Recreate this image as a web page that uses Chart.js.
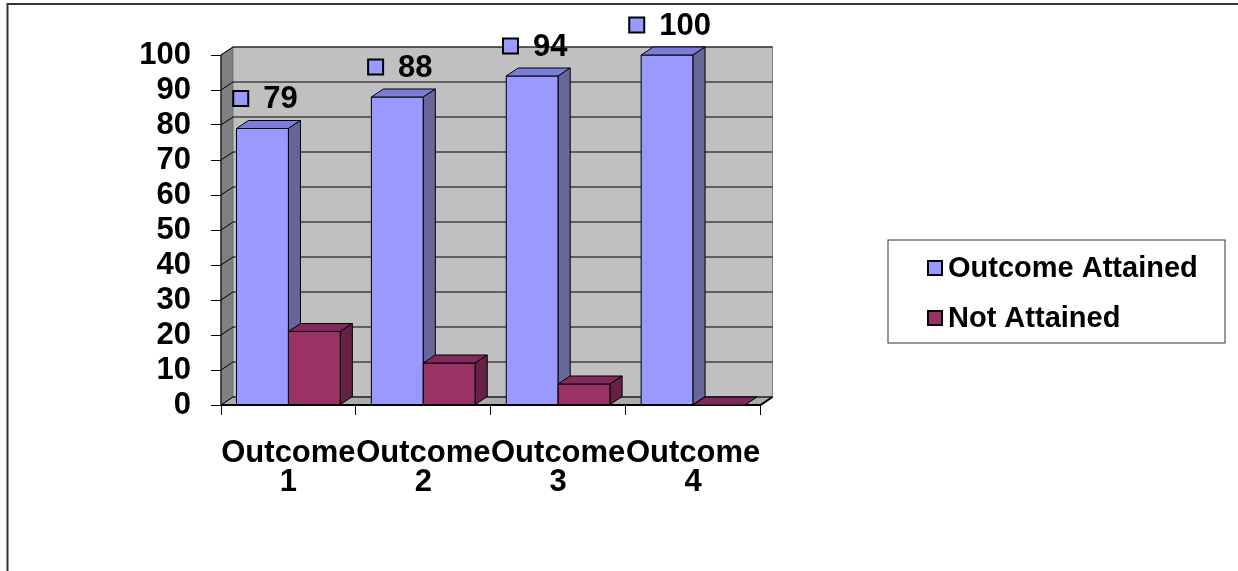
<!DOCTYPE html>
<html><head><meta charset="utf-8">
<script src="https://cdn.jsdelivr.net/npm/chart.js@4/dist/chart.umd.min.js"></script>
<style>
html,body{margin:0;padding:0;background:#fff;overflow:hidden;width:1238px;height:571px;}
#c{position:absolute;left:0;top:0;}
</style></head><body>
<canvas id="c" width="1238" height="571"></canvas>
<script>
// ---- data ----
const categories = [['Outcome', '1'], ['Outcome', '2'], ['Outcome', '3'], ['Outcome', '4']];
const seriesNames = ['Outcome Attained', 'Not Attained'];
const attained = [79, 88, 94, 100];
const notAttained = [21, 12, 6, 0];
const yMin = 0, yMax = 100, yStep = 10;

// ---- styles ----
const frontColors = ['#9999FF', '#993366'];
const topColors = ['#7C7CD9', '#80295A'];
const sideColors = ['#666699', '#662244'];
const FONT = "'Liberation Sans', Arial, sans-serif";
const DX = 12, DY = -8;

function poly(ctx, pts, fill) {
  ctx.beginPath();
  ctx.moveTo(pts[0][0], pts[0][1]);
  for (let i = 1; i < pts.length; i++) ctx.lineTo(pts[i][0], pts[i][1]);
  ctx.closePath();
  if (fill) { ctx.fillStyle = fill; ctx.fill(); }
  ctx.stroke();
}

const threeD = {
  id: 'threeD',
  beforeDatasetsDraw(chart) {
    const { ctx, chartArea: a, scales: { y } } = chart;
    ctx.save();
    ctx.lineWidth = 1;
    ctx.strokeStyle = '#555';
    poly(ctx, [[a.left, a.top], [a.left + DX, a.top + DY], [a.left + DX, a.bottom + DY], [a.left, a.bottom]], '#808080');
    ctx.fillStyle = '#C0C0C0';
    ctx.fillRect(a.left + DX, a.top + DY, a.right - a.left, a.bottom - a.top);
    ctx.strokeStyle = '#808080';
    ctx.strokeRect(a.left + DX, a.top + DY, a.right - a.left, a.bottom - a.top);
    ctx.strokeStyle = '#666';
    poly(ctx, [[a.left, a.bottom], [a.right, a.bottom], [a.right + DX, a.bottom + DY], [a.left + DX, a.bottom + DY]], '#ABABAB');
    ctx.strokeStyle = '#000';
    y.ticks.forEach(t => {
      const yy = y.getPixelForValue(t.value);
      ctx.beginPath();
      ctx.moveTo(a.left, yy);
      ctx.lineTo(a.left + DX, yy + DY);
      ctx.lineTo(a.right + DX, yy + DY);
      ctx.stroke();
    });
    ctx.beginPath();
    ctx.moveTo(a.left, a.top); ctx.lineTo(a.left, a.bottom);
    ctx.stroke();
    ctx.lineWidth = 2;
    ctx.beginPath();
    ctx.moveTo(a.left, a.bottom); ctx.lineTo(a.right, a.bottom); ctx.lineTo(a.right + DX, a.bottom + DY);
    ctx.stroke();
    ctx.restore();
  },
  afterDatasetsDraw(chart) {
    const ctx = chart.ctx;
    const n = chart.data.labels.length;
    ctx.save();
    ctx.lineWidth = 1;
    ctx.strokeStyle = '#000';
    for (let i = 0; i < n; i++) {
      chart.data.datasets.forEach((ds, d) => {
        const el = chart.getDatasetMeta(d).data[i];
        const { x, y, base, width } = el.getProps(['x', 'y', 'base', 'width'], true);
        const x0 = x - width / 2, x1 = x + width / 2;
        if (base - y > 0.5) poly(ctx, [[x0, y], [x1, y], [x1, base], [x0, base]], frontColors[d]);
        poly(ctx, [[x0, y], [x1, y], [x1 + DX, y + DY], [x0 + DX, y + DY]], topColors[d]);
        if (base - y > 0.5) poly(ctx, [[x1, y], [x1 + DX, y + DY], [x1 + DX, base + DY], [x1, base]], sideColors[d]);
      });
    }
    const meta = chart.getDatasetMeta(0);
    ctx.font = `bold 31px ${FONT}`;
    ctx.textBaseline = 'middle';
    ctx.textAlign = 'left';
    meta.data.forEach((el, i) => {
      const { x, y } = el.getProps(['x', 'y'], true);
      const txt = String(chart.data.datasets[0].data[i]);
      const tw = ctx.measureText(txt).width;
      const mw = 15, mh = 15, gap = 15;
      const total = mw + gap + tw;
      const cx = x + 3;
      const cy = y - 30;
      const left = cx - total / 2;
      ctx.lineWidth = 2;
      ctx.strokeStyle = '#000';
      ctx.fillStyle = frontColors[0];
      ctx.fillRect(left, cy - mh / 2, mw, mh);
      ctx.strokeRect(left, cy - mh / 2, mw, mh);
      ctx.fillStyle = '#000';
      ctx.fillText(txt, left + mw + gap, cy + 1);
    });
    ctx.restore();
  },
  afterDraw(chart) {
    const ctx = chart.ctx;
    ctx.save();
    ctx.strokeStyle = '#333';
    ctx.lineWidth = 2;
    ctx.beginPath();
    ctx.moveTo(7.5, 600); ctx.lineTo(7.5, 4); ctx.lineTo(1300, 4);
    ctx.stroke();
    const lx = 888, ly = 240, lw = 337, lh = 103;
    ctx.lineWidth = 1;
    ctx.strokeStyle = '#333';
    ctx.strokeRect(lx, ly, lw, lh);
    ctx.font = `bold 29px ${FONT}`;
    ctx.textBaseline = 'middle';
    ctx.textAlign = 'left';
    chart.data.datasets.forEach((ds, d) => {
      const cy = 268 + d * 50;
      ctx.fillStyle = frontColors[d];
      ctx.lineWidth = 2;
      ctx.strokeStyle = '#000';
      ctx.fillRect(928, cy - 7, 14, 14);
      ctx.strokeRect(928, cy - 7, 14, 14);
      ctx.fillStyle = '#000';
      ctx.fillText(ds.label, 948, cy + 1);
    });
    ctx.restore();
  }
};

new Chart(document.getElementById('c'), {
  type: 'bar',
  data: {
    labels: categories,
    datasets: [
      { label: seriesNames[0], data: attained, backgroundColor: frontColors[0], borderWidth: 0 },
      { label: seriesNames[1], data: notAttained, backgroundColor: frontColors[1], borderWidth: 0 }
    ]
  },
  options: {
    responsive: false,
    devicePixelRatio: 1,
    animation: false,
    events: [],
    layout: { padding: { left: 0, top: 55, right: 477.5, bottom: 0 } },
    datasets: { bar: { categoryPercentage: 0.77, barPercentage: 1.0 } },
    plugins: { legend: { display: false }, tooltip: { enabled: false }, title: { display: false } },
    scales: {
      x: {
        grid: { drawOnChartArea: false, color: '#000', tickLength: 10, lineWidth: 1 },
        border: { display: false },
        ticks: { color: '#000', font: { family: FONT, size: 31, weight: 'bold', lineHeight: 0.935 }, padding: 23.5, maxRotation: 0, autoSkip: false },
        afterFit(s) { s.height = 166; }
      },
      y: {
        min: yMin, max: yMax,
        grid: { drawOnChartArea: false, color: '#000', tickLength: 10, lineWidth: 1 },
        border: { display: false },
        ticks: { stepSize: yStep, autoSkip: false, color: '#000', font: { family: FONT, size: 31, weight: 'bold' }, padding: 20 },
        afterFit(s) { s.width = 221; }
      }
    }
  },
  plugins: [threeD]
});
</script>
</body></html>
